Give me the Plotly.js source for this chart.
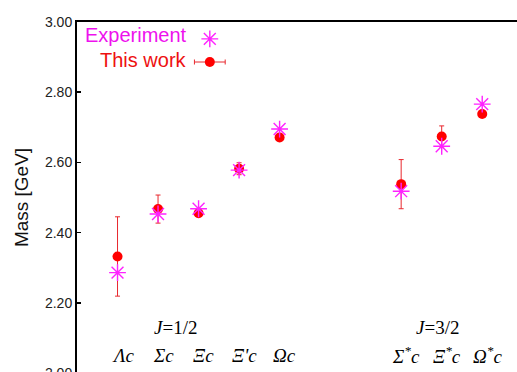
<!DOCTYPE html>
<html>
<head>
<meta charset="utf-8">
<script src="https://cdn.plot.ly/plotly-3.0.1.min.js"></script>
<style>
html, body { margin: 0; padding: 0; overflow: hidden; background: #fff; }
#chart { width: 580px; height: 420px; }
</style>
</head>
<body>
<div id="chart"></div>
<script>
// ---- data ----
const categories = ['Λc', 'Σc', 'Ξc', "Ξ'c", 'Ωc', 'Σ<sup>*</sup>c', 'Ξ<sup>*</sup>c', 'Ω<sup>*</sup>c'];
const catPos = [1, 2, 3, 4, 5, 8, 9, 10];
const experiment = [2.286, 2.453, 2.468, 2.578, 2.695, 2.518, 2.646, 2.766];
const thisWork = [2.332, 2.467, 2.455, 2.582, 2.671, 2.538, 2.674, 2.738];
const thisWorkErr = [0.113, 0.040, 0.008, 0.017, 0.008, 0.070, 0.030, 0.008];
const groupLabels = ['<i>J</i>=1/2', '<i>J</i>=3/2'];
const groupPos = [2.43, 8.9];
const yTickVals = [2.0, 2.2, 2.4, 2.6, 2.8, 3.0];
const yTickText = ['2.00', '2.20', '2.40', '2.60', '2.80', '3.00'];
const legendNames = ['Experiment', 'This work'];

const MAG = '#ff22ff';
const RED = '#ff0000';

const traces = [
  {
    x: catPos, y: thisWork, type: 'scatter', mode: 'markers', name: legendNames[1],
    marker: { color: RED, size: 10, symbol: 'circle' },
    error_y: { type: 'data', array: thisWorkErr, visible: true, color: '#e8282e', thickness: 1, width: 2.5 },
    showlegend: false, hoverinfo: 'skip'
  },
  {
    x: catPos, y: experiment, type: 'scatter', mode: 'markers', name: legendNames[0],
    marker: { symbol: 'asterisk-open', size: 14, color: MAG, line: { color: MAG, width: 1.4 } },
    showlegend: false, hoverinfo: 'skip'
  },
  // legend keys (on a hidden overlay axis in fractional units)
  {
    x: [0.285], y: [0.952], xaxis: 'x2', yaxis: 'y2', type: 'scatter', mode: 'markers',
    marker: { symbol: 'asterisk-open', size: 14, color: MAG, line: { color: MAG, width: 1.4 } },
    showlegend: false, hoverinfo: 'skip'
  },
  {
    x: [0.285], y: [0.886], xaxis: 'x2', yaxis: 'y2', type: 'scatter', mode: 'markers',
    marker: { color: RED, size: 10 },
    error_x: { type: 'constant', value: 0.033, visible: true, color: '#e8282e', thickness: 1, width: 2.5 },
    showlegend: false, hoverinfo: 'skip'
  }
];

const annotations = [];
categories.forEach((c, i) => {
  annotations.push({
    x: catPos[i], xref: 'x', y: 0.051, yref: 'paper', text: '<i>' + c + '</i>',
    showarrow: false, xanchor: 'center', yanchor: 'middle', xshift: 5,
    font: { family: 'Liberation Serif, Times New Roman, serif', size: 19, color: '#000' }
  });
});
groupLabels.forEach((g, i) => {
  annotations.push({
    x: groupPos[i], xref: 'x', y: 0.13, yref: 'paper', text: g,
    showarrow: false, xanchor: 'center', yanchor: 'middle',
    font: { family: 'Liberation Serif, Times New Roman, serif', size: 19, color: '#000' }
  });
});
annotations.push({
  x: 0.241, xref: 'paper', y: 0.962, yref: 'paper', text: legendNames[0],
  showarrow: false, xanchor: 'right', yanchor: 'middle',
  font: { family: 'Liberation Sans, Arial, sans-serif', size: 20, color: '#ee11ee' }
});
annotations.push({
  x: 0.241, xref: 'paper', y: 0.893, yref: 'paper', text: legendNames[1],
  showarrow: false, xanchor: 'right', yanchor: 'middle',
  font: { family: 'Liberation Sans, Arial, sans-serif', size: 20, color: '#ee1111' }
});

const layout = {
  width: 580, height: 420,
  margin: { l: 77, r: 37, t: 22, b: 47 },
  paper_bgcolor: '#fff', plot_bgcolor: '#fff',
  showlegend: false,
  font: { family: 'Liberation Sans, Arial, sans-serif', color: '#222' },
  xaxis: {
    range: [0, 11.5], showgrid: false, zeroline: false, showticklabels: false, ticks: '',
    showline: true, linecolor: '#000', linewidth: 2, mirror: true
  },
  yaxis: {
    range: [2.0, 3.0], tickvals: yTickVals, ticktext: yTickText,
    ticks: 'inside', ticklen: 4, tickwidth: 1.5, tickcolor: '#000',
    showgrid: false, zeroline: false,
    showline: true, linecolor: '#000', linewidth: 2, mirror: true,
    tickfont: { size: 14, color: '#222' },
    title: { text: 'Mass [GeV]', font: { size: 19, color: '#111' }, standoff: 11 }
  },
  xaxis2: { overlaying: 'x', range: [0, 1], visible: false, showgrid: false, zeroline: false },
  yaxis2: { overlaying: 'y', range: [0, 1], visible: false, showgrid: false, zeroline: false },
  annotations: annotations
};

Plotly.newPlot('chart', traces, layout, { displayModeBar: false, staticPlot: true });
</script>
</body>
</html>
